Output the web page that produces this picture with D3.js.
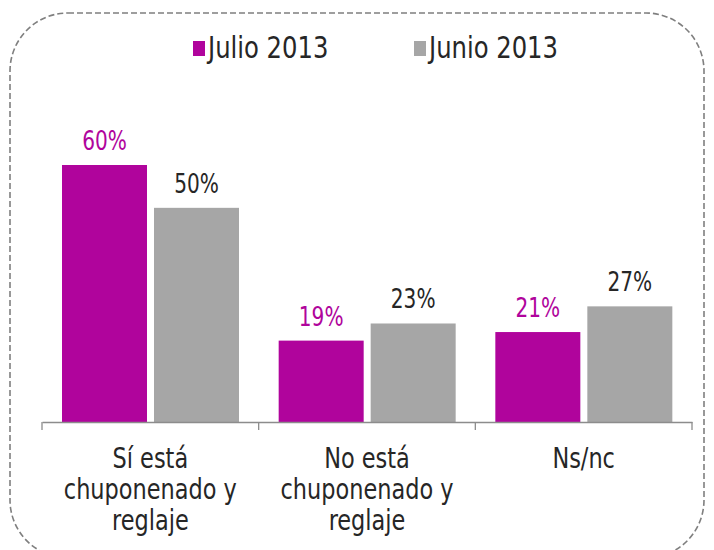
<!DOCTYPE html>
<html>
<head>
<meta charset="utf-8">
<script src="https://cdn.jsdelivr.net/npm/d3@7"></script>
<style>
  body { margin: 0; background: #fff; }
  svg { font-family: "DejaVu Sans Condensed", "DejaVu Sans", sans-serif; }
</style>
</head>
<body>
<div id="chart"></div>
<script>
// data
const categories = ['si', 'no', 'ns'];
const categoryLines = [
  ['Sí está', 'chuponenado y', 'reglaje'],
  ['No está', 'chuponenado y', 'reglaje'],
  ['Ns/nc']
];
const seriesNames = ['Julio 2013', 'Junio 2013'];
const julio = [60, 19, 21];
const junio = [50, 23, 27];

const width = 714;
const height = 550;
const colors = ['#b0049c', '#a6a6a6'];
const labelColors = ['#b0049c', '#262626'];
// the original font is taller and narrower than DejaVu, so squeeze it a bit
const squeeze = 0.86;

const svg = d3.select('#chart')
  .append('svg')
  .attr('width', width)
  .attr('height', height);

// dashed rounded frame
svg.append('rect')
  .attr('x', 10)
  .attr('y', 13)
  .attr('width', 694)
  .attr('height', 545)
  .attr('rx', 58)
  .attr('ry', 58)
  .style('fill', 'none')
  .style('stroke', '#7f7f7f')
  .style('stroke-width', 1.6)
  .style('stroke-dasharray', '6,3');

const x = d3.scaleBand()
  .domain(categories)
  .range([42, 692])
  .paddingInner(0);

const xInner = d3.scaleBand()
  .domain(seriesNames)
  .range([20, 197])
  .paddingInner(0.076);

const y = d3.scaleLinear()
  .domain([0, 60])
  .range([422, 165]);

const rows = categories.map((c, i) => ({
  cat: c,
  values: [julio[i], junio[i]]
}));

const groups = svg.selectAll('.cat')
  .data(rows)
  .enter()
  .append('g')
  .attr('class', 'cat')
  .attr('transform', (d) => `translate(${x(d.cat)},0)`);

groups.selectAll('rect')
  .data((d) => d.values.map((v, j) => ({ v, j })))
  .enter()
  .append('rect')
  .attr('x', (d) => xInner(seriesNames[d.j]))
  .attr('y', (d) => y(d.v))
  .attr('width', xInner.bandwidth())
  .attr('height', (d) => y(0) - y(d.v))
  .style('fill', (d) => colors[d.j]);

groups.selectAll('.val')
  .data((d) => d.values.map((v, j) => ({ v, j })))
  .enter()
  .append('text')
  .attr('class', 'val')
  .attr('transform', (d) =>
    `translate(${xInner(seriesNames[d.j]) + xInner.bandwidth() / 2},${y(d.v) - 15}) scale(${squeeze},1)`)
  .attr('text-anchor', 'middle')
  .attr('font-size', '26px')
  .style('fill', (d) => labelColors[d.j])
  .text((d) => `${d.v}%`);

// category axis
const axis = svg.append('g')
  .attr('transform', `translate(0,${y(0)})`)
  .call(d3.axisBottom(x).tickSize(0).tickFormat(''));
axis.select('.domain').attr('stroke', '#8c8c8c').attr('stroke-width', 1.3);

const tickXs = categories.map((c) => x(c)).concat([x.range()[1]]);
axis.selectAll('.sep')
  .data(tickXs)
  .enter()
  .append('line')
  .attr('class', 'sep')
  .attr('x1', (d) => d)
  .attr('x2', (d) => d)
  .attr('y1', 0)
  .attr('y2', 8)
  .attr('stroke', '#8c8c8c')
  .attr('stroke-width', 1.3);

groups.append('text')
  .attr('transform', `translate(${x.bandwidth() / 2},468) scale(${squeeze},1)`)
  .attr('text-anchor', 'middle')
  .attr('font-size', '29px')
  .style('fill', '#262626')
  .selectAll('tspan')
  .data((d, i) => categoryLines[i])
  .enter()
  .append('tspan')
  .attr('x', 0)
  .attr('y', (d, i) => i * 31)
  .text((d) => d);

// legend
const legendX = [193, 414];
const legend = svg.append('g').attr('id', 'legend');
legend.selectAll('rect')
  .data(seriesNames)
  .enter()
  .append('rect')
  .attr('x', (d, i) => legendX[i])
  .attr('y', 41)
  .attr('width', 12)
  .attr('height', 15)
  .style('fill', (d, i) => colors[i]);
legend.selectAll('text')
  .data(seriesNames)
  .enter()
  .append('text')
  .attr('transform', (d, i) => `translate(${legendX[i] + 15},58) scale(0.9,1)`)
  .attr('font-size', '30px')
  .style('fill', '#262626')
  .text((d) => d);
</script>
</body>
</html>
